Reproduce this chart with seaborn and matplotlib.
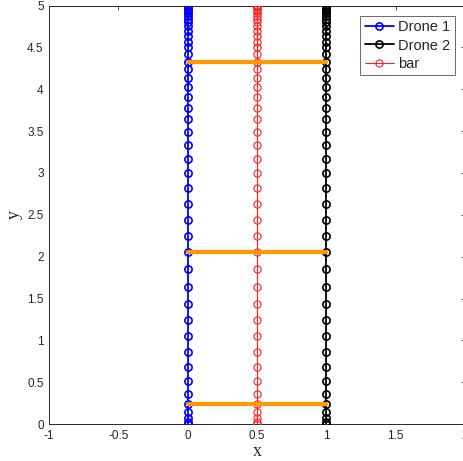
import numpy as np
import pandas as pd
import seaborn as sns
import matplotlib.pyplot as plt

# Vertical positions of the formation over the time steps
y_path = [0.0, 0.02, 0.07, 0.14, 0.24, 0.36, 0.51, 0.68, 0.86, 1.05, 1.24,
          1.44, 1.64, 1.85, 2.05, 2.25, 2.44, 2.63, 2.82, 3.00, 3.17, 3.33,
          3.49, 3.64, 3.78, 3.91, 4.03, 4.14, 4.24, 4.33, 4.42, 4.50, 4.57,
          4.64, 4.70, 4.75, 4.80, 4.84, 4.88, 4.91, 4.94, 4.96, 4.98, 4.99,
          4.995, 5.0, 5.0]
x_drone1 = 0.0
x_drone2 = 1.0
x_bar = 0.5
# Heights at which the bar is drawn between the two drones
bar_heights = [0.24, 2.05, 4.33]

series_names = ["Drone 1", "Drone 2", "bar"]
series_x = [x_drone1, x_drone2, x_bar]
series_colors = ["#0000ff", "#000000", "#ff2020"]
series_lw = [1.3, 1.3, 0.8]
series_mew = [1.2, 1.2, 0.8]

sns.set_style("white")
plt.rcParams["font.family"] = ["Liberation Sans", "DejaVu Sans"]

fig = plt.figure(figsize=(4.64, 4.61), dpi=100)
ax = fig.add_axes([0.106, 0.080, 0.896, 0.908])

frames = []
for name, xv in zip(series_names, series_x):
    frames.append(pd.DataFrame({"x": [xv] * len(y_path), "y": y_path,
                                "series": name, "step": range(len(y_path))}))
df = pd.concat(frames, ignore_index=True)

for name, col, lw, mew in zip(series_names, series_colors, series_lw, series_mew):
    sub = df[df["series"] == name]
    sns.lineplot(data=sub, x="x", y="y", sort=False, estimator=None, ax=ax,
                 color=col, lw=lw, marker="o", markersize=5.2,
                 markerfacecolor="none", markeredgecolor=col,
                 markeredgewidth=mew, label=name, zorder=3)

for h in bar_heights:
    seg = pd.DataFrame({"x": [x_drone1, x_drone2], "y": [h, h]})
    sns.lineplot(data=seg, x="x", y="y", sort=False, estimator=None, ax=ax,
                 color="#ff9900", lw=3, zorder=4, legend=False)

ax.set_xlim(-1, 2)
ax.set_ylim(0, 5)
ax.set_xticks([-1, -0.5, 0, 0.5, 1, 1.5, 2])
ax.set_xticklabels(["-1", "-0.5", "0", "0.5", "1", "1.5", "2"])
ax.set_yticks(np.arange(0, 5.01, 0.5))
ax.set_yticklabels(["0", "0.5", "1", "1.5", "2", "2.5", "3", "3.5", "4", "4.5", "5"])
ax.tick_params(direction="in", length=3, width=0.6, colors="#262626",
               labelsize=8.5, top=True, right=True, pad=4)
for sp in ax.spines.values():
    sp.set_color("#262626")
    sp.set_linewidth(0.7)

ax.set_xlabel("x", family=["Liberation Serif"], fontsize=13, labelpad=1)
ax.set_ylabel("y", family=["Liberation Serif"], fontsize=13, labelpad=3)

leg = ax.legend(loc="upper right", fontsize=10.5, frameon=True, fancybox=False,
                edgecolor="#262626", borderpad=0.3, handlelength=2.0,
                labelspacing=0.3, handletextpad=0.3,
                bbox_to_anchor=(0.993, 0.993))
leg.get_frame().set_linewidth(0.6)

fig.savefig("out.png", dpi=100)
